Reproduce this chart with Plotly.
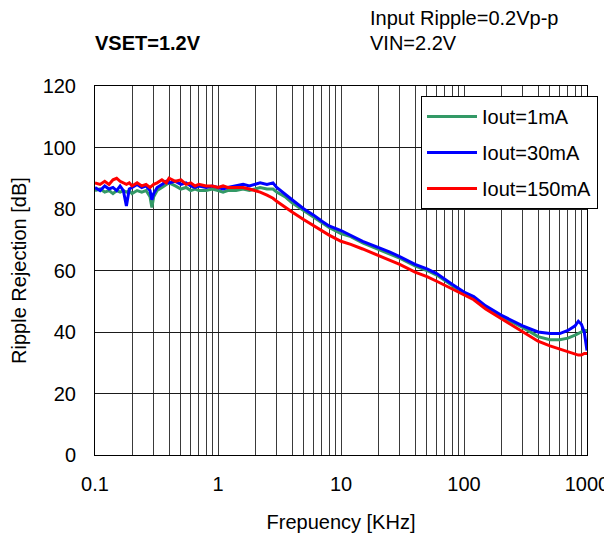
import plotly.graph_objects as go

# frequency points [kHz]
FREQ = [0.1, 0.11, 0.12, 0.13, 0.14, 0.15, 0.16, 0.17, 0.18, 0.19,
        0.2, 0.22, 0.24, 0.26, 0.28, 0.29, 0.3, 0.32, 0.35, 0.38,
        0.4, 0.45, 0.5, 0.55, 0.6, 0.65, 0.7, 0.8, 0.9, 1,
        1.1, 1.2, 1.4, 1.6, 1.8, 2, 2.2, 2.5, 2.8, 3,
        3.5, 4, 5, 6, 7, 8, 10, 12, 15, 20,
        25, 30, 40, 50, 60, 80, 100, 120, 150, 200,
        250, 300, 400, 500, 600, 700, 800, 850, 900, 950, 1000]

IOUT_1MA = [86, 86.5, 85.5, 86, 85, 86, 85.5, 86, 85.5, 86,
            85, 86, 85.5, 86, 84, 80.5, 84, 86, 87, 88,
            88.5, 87.5, 86.5, 87, 86, 86.5, 86, 86, 86.5, 86,
            85.5, 86, 86, 86.5, 86, 86.5, 87, 86.5, 86.5, 85.5,
            84, 82, 79.5, 77.5, 75.5, 74, 72, 71, 69, 67,
            65.5, 64, 61.5, 60, 58.5, 55, 52.5, 51, 48, 45,
            43, 41.5, 38.5, 37.5, 37.5, 38, 39, 39.5, 40, 40.5, 40.5]

IOUT_30MA = [87, 86, 87.5, 86.5, 87, 86, 87.5, 86, 81, 86.5,
             87, 88, 87, 87.5, 86, 83, 85, 87, 88, 89,
             88.5, 89, 88, 88.5, 87.5, 87, 87.5, 87, 87.5, 87,
             86.5, 87, 87.5, 88, 87.5, 88, 88.5, 88, 88.5, 87,
             85, 83, 80, 78, 76, 74.5, 73, 71.5, 69.5, 67.5,
             66, 64.5, 62, 60.5, 59, 55.5, 53, 51.5, 48.5, 45.5,
             43.5, 42, 40, 39.5, 39.5, 40.5, 42, 43.5, 42.5, 40, 34]

IOUT_150MA = [88.5, 88, 89, 88, 89.5, 90, 89, 88.5, 88, 88.5,
              87.5, 88.5, 87.5, 88, 87, 87.5, 88, 88.5, 89.5, 88.5,
              90, 89, 89.5, 88, 88.5, 87.5, 88, 87.5, 87.5, 87,
              87.5, 87, 87, 87, 86.5, 86, 85.5, 84.5, 83.5, 82.5,
              80.5, 79, 76.5, 74.5, 73, 71.5, 69.5, 68.5, 67, 65,
              63.5, 62, 59.5, 58, 56.5, 54, 52, 50.5, 47.5, 44.5,
              42, 40, 37, 35.5, 34.5, 33.5, 33, 32.5, 32.5, 33, 33]

SERIES = [("Iout=1mA", IOUT_1MA, "#339966"),
          ("Iout=30mA", IOUT_30MA, "#0000FF"),
          ("Iout=150mA", IOUT_150MA, "#FF0000")]

# log grid: a line at every 1..9 multiple, labels only on decades
XTICK_VALS = [m * d for d in (0.1, 1, 10, 100) for m in range(1, 10)] + [1000]
XTICK_TEXT = [("%g" % v) if m == 1 else "" for v, m in
              zip(XTICK_VALS, [m for _ in range(4) for m in range(1, 10)] + [1])]
YTICK_VALS = [0, 20, 40, 60, 80, 100, 120]

FONT = "Liberation Sans, Arial, sans-serif"

fig = go.Figure()
for i, (name, vals, color) in enumerate(SERIES):
    fig.add_trace(go.Scatter(
        x=FREQ, y=vals, mode="lines", name=name, legendgroup=str(i),
        line=dict(color=color, width=3),
    ))

# the page body adds an 8px margin, so the figure is 8px smaller on each axis
fig.update_layout(
    width=604, height=532,
    margin=dict(l=87, r=25, t=78, b=85),
    paper_bgcolor="white", plot_bgcolor="white",
    font=dict(family=FONT, size=20, color="black"),
    showlegend=True,
    legend=dict(
        x=0.6626, y=0.973, xanchor="left", yanchor="top",
        bgcolor="white", bordercolor="black", borderwidth=1,
        font=dict(size=20), itemwidth=50, tracegroupgap=7,
        traceorder="grouped",
    ),
    xaxis=dict(
        type="log", range=[-1, 3], automargin=False,
        tickvals=XTICK_VALS, ticktext=XTICK_TEXT,
        showgrid=True, gridcolor="#3a3a3a", gridwidth=1,
        showline=True, linecolor="black", linewidth=1, mirror=True,
        ticks="", ticklabelstandoff=11,
        tickfont=dict(size=20),
        title=dict(text="Frepuency [KHz]", font=dict(size=20), standoff=20),
        zeroline=False,
    ),
    yaxis=dict(
        range=[0, 120], tickvals=YTICK_VALS, automargin=False,
        showgrid=True, gridcolor="#1a1a1a", gridwidth=1,
        showline=True, linecolor="black", linewidth=1, mirror=True,
        ticks="", ticklabelstandoff=14,
        tickfont=dict(size=20),
        title=dict(text="Ripple Rejection [dB]", font=dict(size=20), standoff=12),
        zeroline=False,
    ),
    annotations=[
        dict(text="<b>VSET=1.2V</b>", xref="paper", yref="paper",
             x=-0.004, y=1.117, xanchor="left", yanchor="middle",
             showarrow=False, font=dict(size=20)),
        dict(text="Input Ripple=0.2Vp-p", xref="paper", yref="paper",
             x=0.554, y=1.184, xanchor="left", yanchor="middle",
             showarrow=False, font=dict(size=20)),
        dict(text="VIN=2.2V", xref="paper", yref="paper",
             x=0.554, y=1.117, xanchor="left", yanchor="middle",
             showarrow=False, font=dict(size=20)),
    ],
)

fig.write_html("out.html")
